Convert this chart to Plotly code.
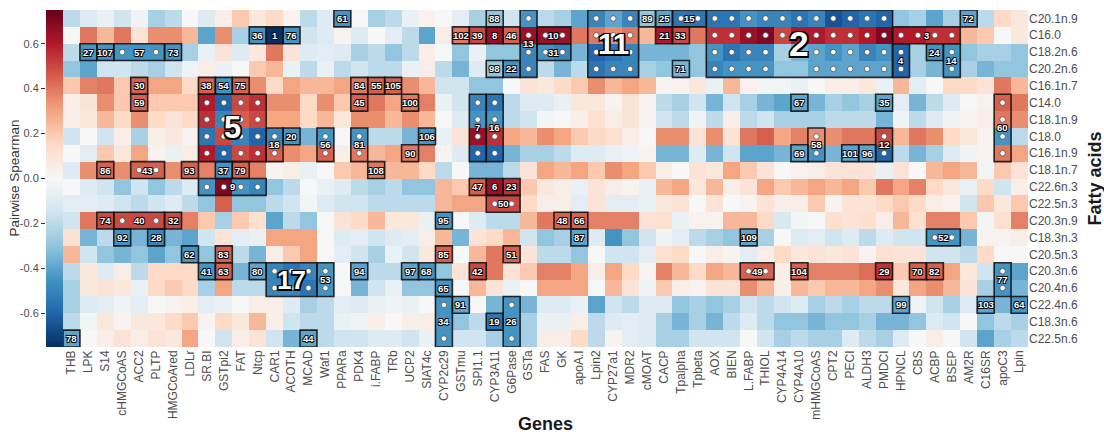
import numpy as np
import plotly.graph_objects as go

genes = ["THB", "LPK", "S14", "cHMGCoAS", "ACC2", "PLTP", "HMGCoAred", "LDLr", "SR.BI", "GSTpi2",
         "FAT", "Ntcp", "CAR1", "ACOTH", "MCAD", "Waf1", "PPARa", "PDK4", "i.FABP", "TRb",
         "UCP2", "SIAT4c", "CYP2c29", "GSTmu", "SPI1.1", "CYP3A11", "G6Pase", "GSTa", "FAS", "GK",
         "apoA.I", "Lpin2", "CYP27a1", "MDR2", "cMOAT", "CACP", "Tpalpha", "Tpbeta", "AOX", "BIEN",
         "L.FABP", "THIOL", "CYP4A14", "CYP4A10", "mHMGCoAS", "CPT2", "PECI", "ALDH3", "PMDCI", "HPNCL",
         "CBS", "ACBP", "BSEP", "AM2R", "C16SR", "apoC3", "Lpin"]

fatty_acids = ["C20.1n.9", "C16.0", "C18.2n.6", "C20.2n.6", "C16.1n.7", "C14.0", "C18.1n.9", "C18.0",
               "C16.1n.9", "C18.1n.7", "C22.6n.3", "C22.5n.3", "C20.3n.9", "C18.3n.3", "C20.5n.3",
               "C20.3n.6", "C20.4n.6", "C22.4n.6", "C18.3n.6", "C22.5n.6"]

# pairwise Spearman correlations, one row per fatty acid (top to bottom), one value per gene
spearman = [
 [-0.2,-0.1,-0.05,-0.15,-0.03,-0.25,-0.2,0,-0.1,0.05,0.2,0.08,0.15,0.02,
  -0.2,-0.1,-0.45,0,-0.25,-0.2,-0.05,0.03,0,-0.08,-0.25,-0.3,-0.15,-0.45,
  -0.2,-0.25,-0.4,-0.5,-0.4,-0.5,-0.3,-0.4,-0.55,-0.55,-0.55,-0.55,-0.45,-0.5,-0.5,
  -0.55,-0.5,-0.65,-0.6,-0.55,-0.6,-0.3,-0.25,-0.4,-0.25,-0.4,-0.2,0.15,0.08],
 [0,0.4,0.25,0.4,0.1,0.35,0.35,0.25,-0.4,0.35,-0.25,-0.45,-0.75,-0.45,
  -0.15,-0.1,0.02,-0.1,0,-0.08,-0.2,-0.4,0.05,0.4,0.5,0.65,0.45,0.65,
  0.65,0.65,0.4,0.4,0.35,0.4,0.25,0.6,0.5,0.4,0.55,0.55,0.65,0.7,0.5,
  0.6,0.6,0.55,0.55,0.6,0.7,0.6,0.6,0.55,0.55,0.25,0.2,0,0.08],
 [-0.2,-0.45,-0.45,-0.45,-0.45,-0.45,-0.45,-0.25,-0.05,0.1,-0.1,0.08,0.4,0.1,
  -0.1,-0.08,-0.1,-0.25,-0.2,-0.3,-0.2,0.05,0,-0.3,-0.05,-0.3,-0.3,-0.5,
  -0.45,-0.5,-0.35,-0.6,-0.55,-0.5,-0.35,-0.35,-0.35,-0.3,-0.45,-0.55,-0.5,-0.5,-0.25,
  -0.35,-0.4,-0.45,-0.4,-0.5,-0.45,-0.6,-0.25,-0.45,-0.45,-0.3,-0.25,-0.25,-0.3],
 [-0.3,-0.4,-0.15,-0.15,-0.2,-0.25,-0.15,-0.03,0.05,-0.05,0,0.2,0.25,-0.05,
  -0.2,-0.05,-0.2,-0.15,-0.2,-0.2,-0.05,0.05,-0.2,-0.35,-0.1,-0.3,-0.45,-0.5,
  -0.2,-0.35,-0.2,-0.55,-0.5,-0.5,-0.25,-0.3,-0.35,-0.3,-0.5,-0.45,-0.45,-0.45,-0.3,
  -0.3,-0.4,-0.4,-0.4,-0.4,-0.4,-0.6,-0.25,-0.35,-0.45,-0.25,-0.35,-0.3,-0.3],
 [0.2,0.38,0.4,0.2,0.45,0.3,0.3,0.15,0.45,-0.45,0.45,0.35,0.15,0.3,
  0.25,0.25,0.3,0.4,0.45,0.45,0.35,0.25,-0.15,-0.15,-0.3,-0.3,0,0.1,
  0.08,0.15,0.2,0.35,0.25,0.3,0.25,0.02,0.03,0.08,-0.05,0.25,0.03,-0.02,-0.02,
  -0.05,0,0.05,0.05,0.08,-0.05,0.25,-0.08,0,0.15,0.15,0.1,0.4,0.25],
 [0.05,0.1,0.35,0.2,0.45,0.2,0.2,0.2,0.6,-0.6,0.5,0.55,0.35,0.35,
  0.15,0.35,0.2,0.45,0.4,0.3,0.4,0.38,-0.05,-0.15,-0.5,-0.55,-0.2,-0.1,
  -0.1,-0.05,0.08,0.08,0.02,0.1,0.02,-0.2,-0.25,-0.15,-0.35,-0.15,-0.25,-0.35,-0.4,
  -0.4,-0.35,-0.25,-0.3,-0.25,-0.4,-0.08,-0.35,-0.2,-0.1,0,0.03,0.45,0.4],
 [0.05,0.08,0.25,0.15,0.35,0.15,0.1,0.15,0.55,-0.5,0.45,0.5,0.3,0.3,
  0.15,0.25,0.08,0.35,0.35,0.25,0.35,0.25,0,-0.1,-0.45,-0.45,-0.2,-0.15,
  -0.02,0,0.05,0.12,0.05,0.1,0.02,-0.15,-0.2,-0.03,-0.2,0.05,-0.2,-0.15,-0.25,
  -0.25,-0.25,-0.2,-0.2,-0.2,-0.35,-0.03,-0.2,-0.1,-0.03,0.02,0.05,0.4,0.35],
 [-0.15,0,-0.15,0.05,-0.25,0.05,0.08,0.02,-0.55,0.5,-0.5,-0.6,-0.5,-0.45,
  -0.35,-0.45,0,-0.45,-0.2,-0.2,-0.35,-0.45,-0.05,0.1,0.65,0.55,0.3,0.25,
  0.35,0.3,0.2,0.15,0.12,0.05,0,0.35,0.35,0.1,0.35,0.1,0.4,0.45,0.3,
  0.38,0.35,0.35,0.4,0.4,0.5,0.25,0.4,0.35,0.15,0.08,0.02,-0.45,-0.2],
 [0,-0.08,0.2,0.08,0.3,0.03,-0.05,0.05,0.6,-0.6,0.5,0.55,0.45,0.35,
  0.3,0.45,0.05,0.4,0.25,0.3,0.4,0.38,0.02,-0.1,-0.6,-0.6,-0.35,-0.25,
  -0.25,-0.2,-0.1,-0.1,-0.05,-0.03,0.02,-0.35,-0.35,-0.1,-0.35,-0.15,-0.4,-0.4,-0.35,
  -0.4,-0.45,-0.35,-0.4,-0.4,-0.6,-0.2,-0.35,-0.25,-0.1,-0.03,0.02,0.4,0.3],
 [-0.1,0.35,0.45,0.35,0.45,0.45,0.35,0.45,0.38,-0.45,0.45,0.38,0.02,0.05,
  -0.05,0,0.2,0.25,0.4,0.25,0.25,0.15,-0.2,0,-0.35,-0.35,-0.2,0.1,
  0.3,0.25,0.3,0.2,0.35,0.3,0.2,0.05,0,0.1,0.08,0.3,0.2,0.1,0,
  0.03,0.05,0.1,0.1,0.1,-0.05,0.1,0,0.25,0.3,0.25,-0.02,0.2,0.1],
 [0,-0.1,-0.15,-0.3,-0.15,-0.3,-0.2,-0.1,-0.45,0.7,-0.45,-0.5,-0.3,-0.2,
  0,-0.05,-0.1,-0.2,-0.25,-0.2,-0.3,-0.3,0.25,0.2,0.45,0.65,0.55,0.2,
  0.08,0.05,-0.05,0.1,0.05,0.02,-0.05,0.25,0.3,0.08,0.25,0.05,0.1,0.3,0.2,
  0.25,0.3,0.25,0.3,0.2,0.4,0.3,0.38,0.15,0.08,-0.05,0.15,-0.15,0.05],
 [-0.08,-0.08,-0.1,-0.15,-0.2,-0.15,-0.1,-0.2,-0.3,0.45,-0.3,-0.3,-0.2,-0.15,
  -0.02,-0.1,-0.15,-0.15,-0.2,-0.2,-0.2,-0.2,0.25,0.3,0.3,0.5,0.5,0.15,
  0.05,0.05,-0.08,0.1,-0.08,-0.08,-0.05,0.08,0.1,0,0.1,0,0.02,0.1,0.05,
  0.05,0.2,0.02,0.1,0.1,0.15,0.2,0.15,0.05,0.03,-0.15,0.2,0.08,0.2],
 [-0.15,0.4,0.5,0.5,0.5,0.5,0.5,0.38,0.2,-0.25,0.2,0.12,-0.4,-0.2,
  -0.3,0,0.1,0.15,0.25,0.08,0.08,-0.05,-0.45,0,-0.1,-0.2,-0.2,0.25,
  0.4,0.45,0.45,0.38,0.38,0.38,0.1,0.12,-0.05,0.03,0.03,0.25,0.25,0.15,-0.12,
  -0.02,0,0.12,0.1,0.12,0.05,0.25,0.12,0.38,0.38,0.2,-0.02,0.12,0.38],
 [0.12,-0.35,-0.2,-0.45,-0.35,-0.5,-0.35,-0.4,-0.15,0.1,-0.08,-0.05,0.3,0.3,
  0.3,0,-0.1,-0.08,-0.15,-0.1,-0.08,0.05,0.25,-0.35,0.1,0.15,0.25,-0.15,
  -0.3,-0.25,-0.4,-0.1,-0.45,-0.3,-0.15,-0.03,-0.08,-0.2,-0.25,-0.3,-0.4,-0.25,0,
  -0.1,-0.08,-0.15,-0.1,-0.2,-0.1,-0.15,-0.15,-0.45,-0.45,-0.35,0.03,0.02,0.05],
 [0.25,-0.15,-0.3,-0.35,-0.3,-0.4,-0.3,-0.45,-0.3,0.45,-0.2,-0.35,0.05,0.2,
  0.3,0,-0.08,-0.15,-0.25,-0.05,-0.15,0.08,0.45,0,0.25,0.4,0.45,0.1,
  -0.2,-0.2,-0.3,0,-0.15,-0.15,-0.08,0.12,0.15,0,0.05,0.02,-0.08,0.05,0.15,
  0.08,0.1,0.08,0.1,0.02,0.12,0.1,0.1,-0.15,-0.15,-0.2,0.15,0,0],
 [-0.2,0.08,-0.1,0.05,-0.2,0.15,0.15,0.15,-0.45,0.45,-0.35,-0.4,-0.5,-0.55,
  -0.5,-0.45,0,-0.4,-0.2,-0.2,-0.4,-0.45,-0.3,0.1,0.5,0.4,0.1,0.2,
  0.38,0.38,0.3,0.05,0.3,0.15,0.02,0.38,0.25,0.15,0.3,0.25,0.45,0.45,0.05,
  0.45,0.38,0.38,0.38,0.42,0.55,0.2,0.45,0.45,0.3,0.08,-0.15,-0.45,-0.4],
 [-0.25,0.08,0.1,0.08,-0.05,0.15,0.2,0.15,-0.25,0.3,-0.2,-0.2,-0.5,-0.5,
  -0.55,-0.45,0,-0.35,-0.15,-0.05,-0.3,-0.3,-0.45,0,0.25,0.1,-0.05,0,
  0.3,0.3,0.3,0,0.25,0.1,-0.03,0.2,0.05,0.02,0.1,0.1,0.35,0.25,0.05,
  0.25,0.2,0.25,0.25,0.3,0.35,0.08,0.3,0.35,0.25,0.1,-0.25,-0.45,-0.35],
 [-0.25,-0.1,-0.08,-0.03,-0.08,0,0.02,0.05,-0.08,-0.05,0,0.05,0.05,-0.1,
  -0.25,-0.2,-0.08,-0.1,-0.05,-0.03,-0.05,0,-0.45,-0.4,0,-0.35,-0.45,-0.35,
  -0.1,-0.1,-0.05,-0.4,-0.15,-0.2,-0.1,-0.1,-0.3,-0.25,-0.3,-0.25,-0.15,-0.2,-0.15,
  -0.1,-0.25,-0.2,-0.25,-0.2,-0.2,-0.4,-0.03,-0.15,-0.25,-0.1,-0.4,-0.35,-0.45],
 [-0.2,-0.02,0.08,0.02,0.08,0.08,0.15,0.2,0.02,0.15,0.08,0.25,0.05,-0.15,
  -0.2,-0.2,-0.05,-0.03,0.05,0,0.05,0.05,-0.45,-0.3,-0.2,-0.55,-0.45,-0.25,
  -0.05,-0.05,0.05,-0.2,-0.1,-0.08,-0.1,-0.25,-0.35,-0.25,-0.35,-0.2,-0.1,-0.2,-0.3,
  -0.3,-0.35,-0.3,-0.3,-0.25,-0.35,-0.35,-0.3,-0.1,-0.15,0,-0.3,-0.2,-0.25],
 [-0.4,0,0.05,0.1,0.05,0.1,0.08,0.3,0,-0.15,0.05,0.1,-0.15,-0.35,
  -0.4,-0.2,-0.15,-0.15,-0.1,-0.1,-0.15,-0.05,-0.45,-0.15,-0.15,-0.25,-0.45,-0.25,
  0.05,0.05,0.15,-0.2,0.02,-0.08,-0.1,-0.25,-0.25,-0.15,-0.15,-0.15,0,-0.15,-0.25,
  -0.2,-0.25,-0.25,-0.1,-0.2,-0.25,-0.1,0,0.05,0,-0.15,-0.4,-0.25,-0.2],
]

# clusters spanning several cells: (id, first gene, last gene, first fatty acid, last fatty acid)
clusters_block = [
    (2, "AOX", "PMDCI", "C20.1n.9", "C20.2n.6"),
    (5, "SR.BI", "Ntcp", "C14.0", "C16.1n.9"),
    (11, "Lpin2", "MDR2", "C20.1n.9", "C20.2n.6"),
    (17, "CAR1", "MCAD", "C20.3n.6", "C20.4n.6"),
    (13, "GSTa", "GSTa", "C20.1n.9", "C20.2n.6"),
    (7, "SPI1.1", "SPI1.1", "C14.0", "C16.1n.9"),
    (16, "CYP3A11", "CYP3A11", "C14.0", "C16.1n.9"),
    (60, "apoC3", "apoC3", "C14.0", "C16.1n.9"),
    (34, "CYP2c29", "CYP2c29", "C22.4n.6", "C22.5n.6"),
    (26, "G6Pase", "G6Pase", "C22.4n.6", "C22.5n.6"),
    (77, "apoC3", "apoC3", "C20.3n.6", "C20.4n.6"),
    (4, "HPNCL", "HPNCL", "C18.2n.6", "C20.2n.6"),
    (14, "BSEP", "BSEP", "C18.2n.6", "C20.2n.6"),
    (58, "mHMGCoAS", "mHMGCoAS", "C18.0", "C16.1n.9"),
    (12, "PMDCI", "PMDCI", "C18.0", "C16.1n.9"),
    (56, "Waf1", "Waf1", "C18.0", "C16.1n.9"),
    (81, "PDK4", "PDK4", "C18.0", "C16.1n.9"),
    (18, "CAR1", "CAR1", "C18.0", "C16.1n.9"),
    (53, "Waf1", "Waf1", "C20.3n.6", "C20.4n.6"),
    (9, "SR.BI", "Ntcp", "C22.6n.3", "C22.6n.3"),
    (50, "CYP3A11", "G6Pase", "C22.5n.3", "C22.5n.3"),
    (43, "ACC2", "PLTP", "C18.1n.7", "C18.1n.7"),
    (10, "FAS", "GK", "C16.0", "C16.0"),
    (31, "FAS", "GK", "C18.2n.6", "C18.2n.6"),
    (15, "Tpalpha", "Tpbeta", "C20.1n.9", "C20.1n.9"),
    (3, "HPNCL", "BSEP", "C16.0", "C16.0"),
    (52, "ACBP", "BSEP", "C18.3n.3", "C18.3n.3"),
    (49, "L.FABP", "THIOL", "C20.3n.6", "C20.3n.6"),
    (57, "cHMGCoAS", "PLTP", "C18.2n.6", "C18.2n.6"),
    (40, "cHMGCoAS", "PLTP", "C20.3n.9", "C20.3n.9"),
]
# cells inside a block's outline that are not members of that cluster: (id, gene, fatty acid)
cluster_holes = [
    (2, "CYP4A14", "C18.2n.6"), (2, "CYP4A10", "C18.2n.6"),
    (2, "CYP4A14", "C20.2n.6"), (2, "CYP4A10", "C20.2n.6"),
]
# single-cell clusters: (id, gene, fatty acid)
clusters_single = [
    (61, "PPARa", "C20.1n.9"), (88, "CYP3A11", "C20.1n.9"), (89, "cMOAT", "C20.1n.9"),
    (25, "CACP", "C20.1n.9"), (72, "AM2R", "C20.1n.9"),
    (36, "Ntcp", "C16.0"), (1, "CAR1", "C16.0"), (76, "ACOTH", "C16.0"), (102, "GSTmu", "C16.0"),
    (39, "SPI1.1", "C16.0"), (8, "CYP3A11", "C16.0"), (46, "G6Pase", "C16.0"),
    (21, "CACP", "C16.0"), (33, "Tpalpha", "C16.0"),
    (27, "LPK", "C18.2n.6"), (107, "S14", "C18.2n.6"), (73, "HMGCoAred", "C18.2n.6"), (24, "ACBP", "C18.2n.6"),
    (98, "CYP3A11", "C20.2n.6"), (22, "G6Pase", "C20.2n.6"), (71, "Tpalpha", "C20.2n.6"),
    (30, "ACC2", "C16.1n.7"), (38, "SR.BI", "C16.1n.7"), (54, "GSTpi2", "C16.1n.7"), (75, "FAT", "C16.1n.7"),
    (84, "PDK4", "C16.1n.7"), (55, "i.FABP", "C16.1n.7"), (105, "TRb", "C16.1n.7"),
    (59, "ACC2", "C14.0"), (45, "PDK4", "C14.0"), (100, "UCP2", "C14.0"), (67, "CYP4A10", "C14.0"),
    (35, "PMDCI", "C14.0"),
    (20, "ACOTH", "C18.0"), (106, "SIAT4c", "C18.0"),
    (90, "UCP2", "C16.1n.9"), (69, "CYP4A10", "C16.1n.9"), (101, "PECI", "C16.1n.9"), (96, "ALDH3", "C16.1n.9"),
    (86, "S14", "C18.1n.7"), (93, "LDLr", "C18.1n.7"), (37, "GSTpi2", "C18.1n.7"), (79, "FAT", "C18.1n.7"),
    (108, "i.FABP", "C18.1n.7"),
    (47, "SPI1.1", "C22.6n.3"), (6, "CYP3A11", "C22.6n.3"), (23, "G6Pase", "C22.6n.3"),
    (74, "S14", "C20.3n.9"), (32, "HMGCoAred", "C20.3n.9"), (95, "CYP2c29", "C20.3n.9"),
    (48, "GK", "C20.3n.9"), (66, "apoA.I", "C20.3n.9"),
    (92, "cHMGCoAS", "C18.3n.3"), (28, "PLTP", "C18.3n.3"), (87, "apoA.I", "C18.3n.3"), (109, "L.FABP", "C18.3n.3"),
    (62, "LDLr", "C20.5n.3"), (83, "GSTpi2", "C20.5n.3"), (85, "CYP2c29", "C20.5n.3"), (51, "G6Pase", "C20.5n.3"),
    (41, "SR.BI", "C20.3n.6"), (63, "GSTpi2", "C20.3n.6"), (80, "Ntcp", "C20.3n.6"), (94, "PDK4", "C20.3n.6"),
    (97, "UCP2", "C20.3n.6"), (68, "SIAT4c", "C20.3n.6"), (42, "SPI1.1", "C20.3n.6"),
    (104, "CYP4A10", "C20.3n.6"), (29, "PMDCI", "C20.3n.6"), (70, "CBS", "C20.3n.6"), (82, "ACBP", "C20.3n.6"),
    (65, "CYP2c29", "C20.4n.6"),
    (91, "GSTmu", "C22.4n.6"), (99, "HPNCL", "C22.4n.6"), (103, "C16SR", "C22.4n.6"), (64, "Lpin", "C22.4n.6"),
    (19, "CYP3A11", "C18.3n.6"),
    (78, "THB", "C22.5n.6"), (44, "MCAD", "C22.5n.6"),
]

cbar_ticks = [-0.6, -0.4, -0.2, 0.0, 0.2, 0.4, 0.6]

# ---------------------------------------------------------------- layout constants
W, H = 1104, 435
HX0, HX1, HY0, HY1 = 63, 1028, 10, 347      # heatmap panel in pixels
CBX0 = 46                                     # colour strip left edge
ZMIN, ZMAX = -0.75, 0.75
rdbu = ["#053061", "#2166ac", "#4393c3", "#92c5de", "#d1e5f0", "#f7f7f7",
        "#fddbc7", "#f4a582", "#d6604d", "#b2182b", "#67001f"]
colorscale = [[i / 10, c] for i, c in enumerate(rdbu)]
GREY = "#4d4d4d"
FONT = "Liberation Sans, Arial, sans-serif"

def px(x):
    return x / W

def py(y):
    return 1 - y / H

gi = {g: i for i, g in enumerate(genes)}
fi = {f: i for i, f in enumerate(fatty_acids)}

fig = go.Figure()

fig.add_trace(go.Heatmap(
    z=spearman, x=list(range(len(genes))), y=list(range(len(fatty_acids))),
    colorscale=colorscale, zmin=ZMIN, zmax=ZMAX, showscale=False,
    customdata=[[g for g in genes] for _ in fatty_acids],
    hovertemplate="%{customdata}<br>%{z}<extra></extra>",
))

# colour strip used as the legend
levels = np.linspace(ZMIN, ZMAX, 301)
fig.add_trace(go.Heatmap(
    z=[[v] for v in levels], x=[0], y=levels, xaxis="x2", yaxis="y2",
    colorscale=colorscale, zmin=ZMIN, zmax=ZMAX, showscale=False, hoverinfo="skip",
))

# ---------------------------------------------------------------- clusters
shapes = []
annotations = []
dot_x, dot_y = [], []
holes = {(c, gi[g], fi[f]) for c, g, f in cluster_holes}

def add_cluster(cid, c0, c1, r0, r1):
    shapes.append(dict(type="rect", xref="x", yref="y",
                       x0=c0 - 0.5, x1=c1 + 0.5, y0=r0 - 0.5, y1=r1 + 0.5,
                       line=dict(color="rgba(20,20,20,0.9)", width=1.6), fillcolor="rgba(0,0,0,0)"))
    cx, cy = (c0 + c1) / 2, (r0 + r1) / 2
    cells = [(c, r) for c in range(c0, c1 + 1) for r in range(r0, r1 + 1) if (cid, c, r) not in holes]
    n = len(cells)
    for c, r in cells:
        if abs(c - cx) < 0.01 and abs(r - cy) < 0.01:
            continue
        dot_x.append(c)
        dot_y.append(r)
    if n >= 6:
        size = 17 + 5 * np.log(n)
        sh = "-1.5px -1.5px 0 #000, 1.5px -1.5px 0 #000, -1.5px 1.5px 0 #000, 1.5px 1.5px 0 #000, 0 0 2px #000"
    else:
        size = 9.5
        sh = "-0.8px -0.8px 0 #000, 0.8px -0.8px 0 #000, -0.8px 0.8px 0 #000, 0.8px 0.8px 0 #000, 0 0 1.2px #000"
    annotations.append(dict(x=cx, y=cy, xref="x", yref="y", text=f"<b>{cid}</b>", showarrow=False,
                            xanchor="center", yanchor="middle",
                            font=dict(family=FONT, size=size, color="white", shadow=sh)))

for cid, g0, g1, f0, f1 in clusters_block:
    add_cluster(cid, gi[g0], gi[g1], fi[f0], fi[f1])
for cid, g, f in clusters_single:
    add_cluster(cid, gi[g], gi[g], fi[f], fi[f])

# dots go under labels: draw as scatter (traces are below annotations)
fig.add_trace(go.Scatter(x=dot_x, y=dot_y, mode="markers", hoverinfo="skip",
                         marker=dict(size=5.5, color="white", line=dict(color="#444", width=0.7))))

# titles
annotations += [
    dict(x=px((HX0 + HX1) / 2), y=py(424), xref="paper", yref="paper", text="<b>Genes</b>",
         xanchor="center", yanchor="middle",
         showarrow=False, font=dict(family=FONT, size=18, color="#1a1a1a")),
    dict(x=px(1094), y=py((HY0 + HY1) / 2), xref="paper", yref="paper", text="<b>Fatty acids</b>",
         xanchor="center", yanchor="middle",
         textangle=-90, showarrow=False, font=dict(family=FONT, size=18, color="#1a1a1a")),
    dict(x=px(14), y=py((HY0 + HY1) / 2), xref="paper", yref="paper", text="Pairwise Spearman",
         xanchor="center", yanchor="middle",
         textangle=-90, showarrow=False, font=dict(family=FONT, size=13.5, color="#333333")),
]

fig.update_layout(
    width=W, height=H, margin=dict(l=0, r=0, t=0, b=0),
    paper_bgcolor="white", plot_bgcolor="white", showlegend=False,
    font=dict(family=FONT),
    xaxis=dict(domain=[px(HX0), px(HX1)], range=[-0.5, len(genes) - 0.5], anchor="y",
               tickmode="array", tickvals=list(range(len(genes))), ticktext=genes, tickangle=-90,
               tickfont=dict(size=12, color=GREY), showgrid=False, zeroline=False, ticks="",
               showline=False, automargin=False, fixedrange=True),
    yaxis=dict(domain=[py(HY1), py(HY0)], range=[len(fatty_acids) - 0.5, -0.5], anchor="x", side="right",
               tickmode="array", tickvals=list(range(len(fatty_acids))), ticktext=fatty_acids,
               tickfont=dict(size=12, color=GREY), showgrid=False, zeroline=False, ticks="",
               showline=False, automargin=False, fixedrange=True),
    xaxis2=dict(domain=[px(CBX0), px(HX0)], range=[-0.5, 0.5], anchor="y2", visible=False, fixedrange=True),
    yaxis2=dict(domain=[py(HY1), py(HY0)], range=[ZMIN, ZMAX], anchor="x2", side="left",
                tickmode="array", tickvals=cbar_ticks, ticktext=[f"{t:.1f}" for t in cbar_ticks],
                ticks="outside", ticklen=4, tickwidth=1, tickcolor="#333",
                tickfont=dict(size=11, color=GREY), showgrid=False, zeroline=False,
                showline=False, automargin=False, fixedrange=True),
    shapes=shapes, annotations=annotations,
)

fig.write_html("out.html")
